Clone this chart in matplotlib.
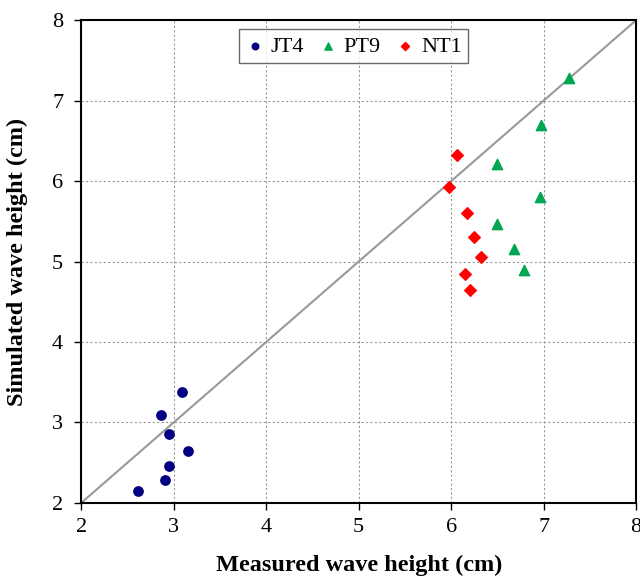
import matplotlib
matplotlib.use('Agg')
import matplotlib.pyplot as plt

jt4_x = [2.61, 2.90, 2.95, 3.15, 2.95, 2.86, 3.09]
jt4_y = [2.15, 2.29, 2.46, 2.64, 2.85, 3.09, 3.38]

pt9_x = [7.27, 6.97, 6.49, 6.96, 6.50, 6.68, 6.79]
pt9_y = [7.28, 6.70, 6.21, 5.80, 5.47, 5.16, 4.89]

nt1_x = [6.06, 5.98, 6.17, 6.25, 6.32, 6.15, 6.20]
nt1_y = [6.32, 5.93, 5.60, 5.30, 5.06, 4.84, 4.64]

ticks = [2, 3, 4, 5, 6, 7, 8]

plt.rcParams['font.family'] = ['Liberation Serif', 'DejaVu Serif']

fig = plt.figure(figsize=(6.4, 5.76), dpi=100)
ax = fig.add_axes([0.127, 0.127, 0.867, 0.838])

ax.plot([2, 8], [2, 8], color='#999999', lw=1.5, zorder=1)
ax.scatter(jt4_x, jt4_y, marker='o', s=45, color='#000080', label='JT4', zorder=3)
ax.scatter(pt9_x, pt9_y, marker='^', s=55, color='#00A651', label='PT9', zorder=3)
ax.scatter(nt1_x, nt1_y, marker='D', s=35, color='#FF0000', label='NT1', zorder=3)

ax.set_xlim(2, 8)
ax.set_ylim(2, 8)
ax.set_xticks(ticks)
ax.set_yticks(ticks)
ax.grid(True, linestyle=(0, (2, 2)), color='#999999', lw=0.8)
ax.set_axisbelow(True)
ax.tick_params(direction='out', length=5, width=1, labelsize=16)
ax.tick_params(axis='x', pad=6)
ax.tick_params(axis='y', pad=8)
for s in ax.spines.values():
    s.set_linewidth(1.5)

ax.set_xlabel('Measured wave height (cm)', fontsize=17.5, weight='bold', labelpad=13)
ax.set_ylabel('Simulated wave height (cm)', fontsize=17.5, weight='bold', labelpad=17)

leg = ax.legend(loc='upper center', bbox_to_anchor=(0.491, 0.981), ncol=3, fontsize=16,
                handletextpad=0.3, columnspacing=0.7, handlelength=0.8, markerscale=0.7,
                fancybox=False, edgecolor='#444444', borderpad=0.3, borderaxespad=0)
leg.get_frame().set_linewidth(1.0)

fig.savefig('out.png', dpi=100)
